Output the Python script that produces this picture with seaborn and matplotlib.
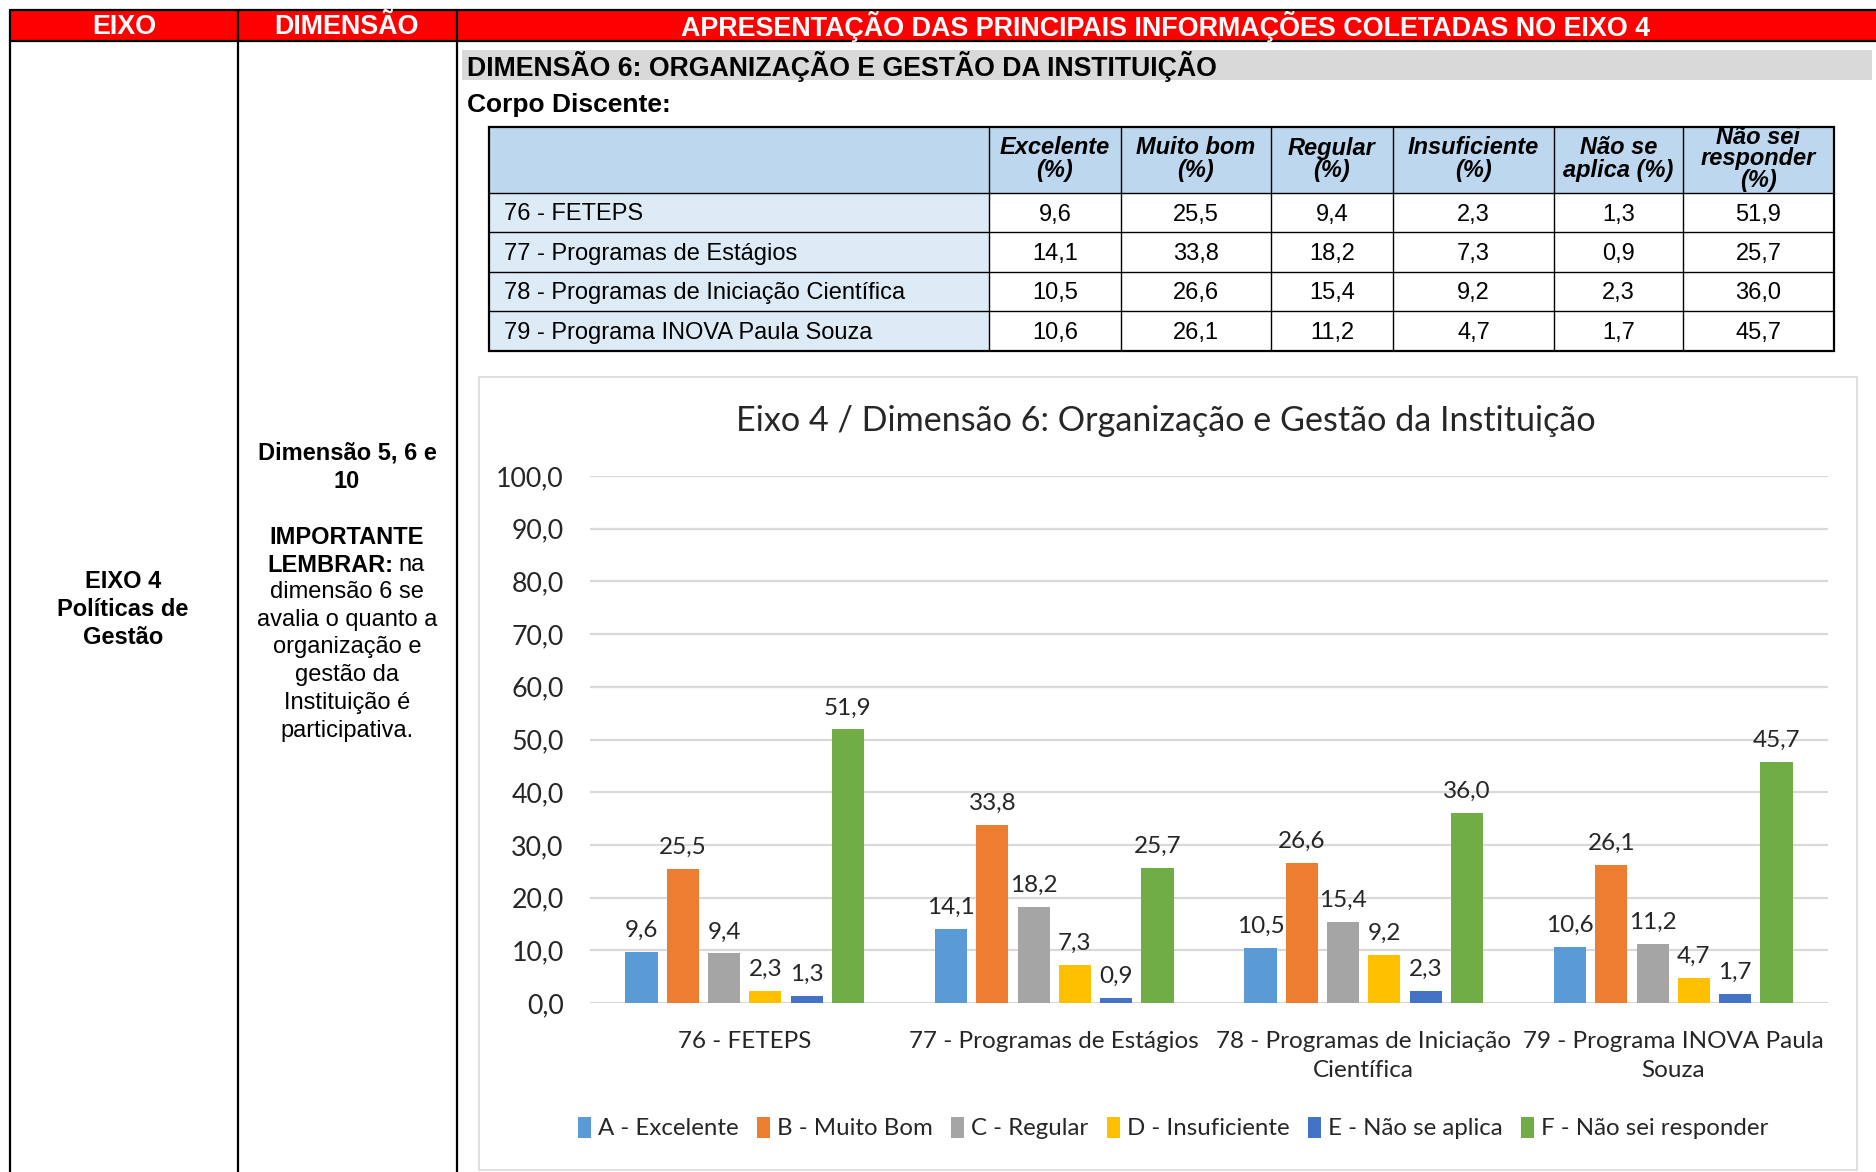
import numpy as np
import pandas as pd
import matplotlib
matplotlib.use("Agg")
import matplotlib.pyplot as plt
import matplotlib.patches as mpatches
import seaborn as sns

# ---- data ----
items = ["76 - FETEPS", "77 - Programas de Estágios",
         "78 - Programas de Iniciação Científica", "79 - Programa INOVA Paula Souza"]
item_ticklabels = ["76 - FETEPS", "77 - Programas de Estágios",
                   "78 - Programas de Iniciação\nCientífica", "79 - Programa INOVA Paula\nSouza"]
series_names = ["A - Excelente", "B - Muito Bom", "C - Regular",
                "D - Insuficiente", "E - Não se aplica", "F - Não sei responder"]
table_headers = [["Excelente", "(%)"], ["Muito bom", "(%)"], ["Regular", "(%)"],
                 ["Insuficiente", "(%)"], ["Não se", "aplica (%)"],
                 ["Não sei", "responder", "(%)"]]
excelente = [9.6, 14.1, 10.5, 10.6]
muito_bom = [25.5, 33.8, 26.6, 26.1]
regular = [9.4, 18.2, 15.4, 11.2]
insuficiente = [2.3, 7.3, 9.2, 4.7]
nao_se_aplica = [1.3, 0.9, 2.3, 1.7]
nao_sei_responder = [51.9, 25.7, 36.0, 45.7]
series_values = [excelente, muito_bom, regular, insuficiente, nao_se_aplica, nao_sei_responder]
colors = ["#5B9BD5", "#ED7D31", "#A5A5A5", "#FFC000", "#4472C4", "#70AD47"]
y_ticks = [0, 10, 20, 30, 40, 50, 60, 70, 80, 90, 100]


def br(v):
    return f"{v:.1f}".replace(".", ",")


sns.set_theme(style="white")
plt.rcParams["font.family"] = ["Liberation Sans", "DejaVu Sans"]

W, H = 1876, 1172
fig = plt.figure(figsize=(W / 100, H / 100), dpi=100)
fig.patch.set_facecolor("white")

# ---- page layout drawn in pixel coordinates ----
bg = fig.add_axes([0, 0, 1, 1])
bg.set_xlim(0, W)
bg.set_ylim(H, 0)
bg.axis("off")

TXT = dict(family=["Liberation Sans", "DejaVu Sans"], color="black")
WTXT = dict(family=["Liberation Sans", "DejaVu Sans"], color="white")

# red header band
bg.add_patch(mpatches.Rectangle((10, 10), W - 10, 31, facecolor="#FF0000", edgecolor="none"))
bg.text(124, 27, "EIXO", ha="center", va="center", fontsize=19.4, fontweight="bold", **WTXT)
bg.text(347, 27, "DIMENSÃO", ha="center", va="center", fontsize=19.4, fontweight="bold", **WTXT)
bg.text(1166, 27, "APRESENTAÇÃO DAS PRINCIPAIS INFORMAÇÕES COLETADAS NO EIXO 4",
        ha="center", va="center", fontsize=19.4, fontweight="bold", **WTXT)
bg.plot([10, W], [10, 10], color="black", lw=1.6)
bg.plot([10, W], [41, 41], color="black", lw=1.6)
for x in (10, 238, 457):
    bg.plot([x, x], [10, H], color="black", lw=1.6)

# left column texts
for y, s in zip([581, 609, 638], ["EIXO 4", "Políticas de", "Gestão"]):
    bg.text(123, y, s, ha="center", va="center", fontsize=17, fontweight="bold", **TXT)

dim_lines = [(453, "Dimensão 5, 6 e", "bold"), (482, "10", "bold"),
             (537, "IMPORTANTE", "bold"),
             (592, "dimensão 6 se", "normal"), (620, "avalia o quanto a", "normal"),
             (647, "organização e", "normal"), (675, "gestão da", "normal"),
             (703, "Instituição é", "normal"), (731, "participativa.", "normal")]
for y, s, w in dim_lines:
    bg.text(347, y, s, ha="center", va="center", fontsize=17, fontweight=w, **TXT)
bg.text(393, 565, "LEMBRAR:", ha="right", va="center", fontsize=17, fontweight="bold", **TXT)
bg.text(398, 565, "na", ha="left", va="center", fontsize=17, fontweight="normal", **TXT)

# section band
bg.add_patch(mpatches.Rectangle((462, 50), 1410, 30, facecolor="#D9D9D9", edgecolor="none"))
bg.text(467, 66, "DIMENSÃO 6: ORGANIZAÇÃO E GESTÃO DA INSTITUIÇÃO", ha="left", va="center",
        fontsize=19.2, fontweight="bold", **TXT)
bg.text(467, 105, "Corpo Discente:", ha="left", va="center", fontsize=19,
        fontweight="bold", **TXT)

# summary table
col_x = [489, 989, 1121, 1271, 1393, 1554, 1683, 1834]
row_y = [127, 193, 232, 272, 311, 351]
bg.add_patch(mpatches.Rectangle((col_x[0], row_y[0]), col_x[-1] - col_x[0], row_y[1] - row_y[0],
                                facecolor="#BDD7EE", edgecolor="none"))
bg.add_patch(mpatches.Rectangle((col_x[0], row_y[1]), col_x[1] - col_x[0], row_y[-1] - row_y[1],
                                facecolor="#DDEBF7", edgecolor="none"))
for x in col_x[1:-1]:
    bg.plot([x, x], [row_y[0], row_y[-1]], color="black", lw=1.0)
for y in row_y[1:-1]:
    bg.plot([col_x[0], col_x[-1]], [y, y], color="black", lw=1.0)
bg.add_patch(mpatches.Rectangle((col_x[0], row_y[0]), col_x[-1] - col_x[0], row_y[-1] - row_y[0],
                                facecolor="none", edgecolor="black", lw=1.6))
for j, lines in enumerate(table_headers):
    cx = (col_x[j + 1] + col_x[j + 2]) / 2
    n = len(lines)
    y0 = 159 - (n - 1) * 11
    for k, s in enumerate(lines):
        bg.text(cx, y0 + 22 * k, s, ha="center", va="center", fontsize=17,
                fontweight="bold", fontstyle="italic", **TXT)
for i, name in enumerate(items):
    cy = (row_y[i + 1] + row_y[i + 2]) / 2 + 2
    bg.text(504, cy, name, ha="left", va="center", fontsize=17, **TXT)
    for j, vals in enumerate(series_values):
        cx = (col_x[j + 1] + col_x[j + 2]) / 2
        bg.text(cx, cy, br(vals[i]), ha="center", va="center", fontsize=17, **TXT)

# chart frame
bg.add_patch(mpatches.Rectangle((479, 377), 1378, 793, facecolor="white",
                                edgecolor="#D9D9D9", lw=1.2))

# ---- bar chart ----
CH = ["Lato", "DejaVu Sans"]
rows = []
for name, vals in zip(series_names, series_values):
    for it, v in zip(items, vals):
        rows.append({"item": it, "pct": v, "serie": name})
df = pd.DataFrame(rows)

ax = fig.add_axes([590 / W, 1 - 1003 / H, (1828 - 590) / W, (1003 - 476) / H])
ax.set_facecolor("none")
sns.barplot(data=df, x="item", y="pct", hue="serie", order=items, hue_order=series_names,
            palette=colors, width=0.8, gap=0.22, saturation=1, legend=False,
            edgecolor="none", ax=ax, zorder=3)
ax.set_ylim(0, 100)
ax.set_xlim(-0.5, 3.5)
ax.set_yticks(y_ticks)
ax.set_yticklabels([br(t) for t in y_ticks], family=CH, fontsize=19.3, color="#262626")
ax.set_xticks(range(len(items)))
ax.set_xticklabels(item_ticklabels, family=CH, fontsize=17.5, color="#262626", linespacing=1.5)
ax.tick_params(axis="both", length=0)
ax.tick_params(axis="y", pad=19)
ax.tick_params(axis="x", pad=20)
ax.set_xlabel("")
ax.set_ylabel("")
for sp in ax.spines.values():
    sp.set_visible(False)
ax.yaxis.grid(True, color="#D9D9D9", lw=1.6, zorder=0)
ax.set_axisbelow(True)

for cont in ax.containers:
    ax.bar_label(cont, labels=[br(v) for v in cont.datavalues], padding=8,
                 family=CH, fontsize=17.5, color="#262626")

fig.text(1166 / W, 1 - 421 / H, "Eixo 4 / Dimensão 6: Organização e Gestão da Instituição",
         ha="center", va="center", family=CH, fontsize=24.6, color="#262626")

handles = [mpatches.Patch(facecolor=c, edgecolor="none") for c in colors]
fig.legend(handles, series_names, loc="center", bbox_to_anchor=(1173 / W, 1 - 1128 / H),
           ncol=6, frameon=False, prop={"family": CH, "size": 17.3},
           handlelength=0.55, handleheight=1.0, handletextpad=0.3, columnspacing=0.75,
           labelcolor="#262626")

fig.savefig("out.png", dpi=100, facecolor="white")
